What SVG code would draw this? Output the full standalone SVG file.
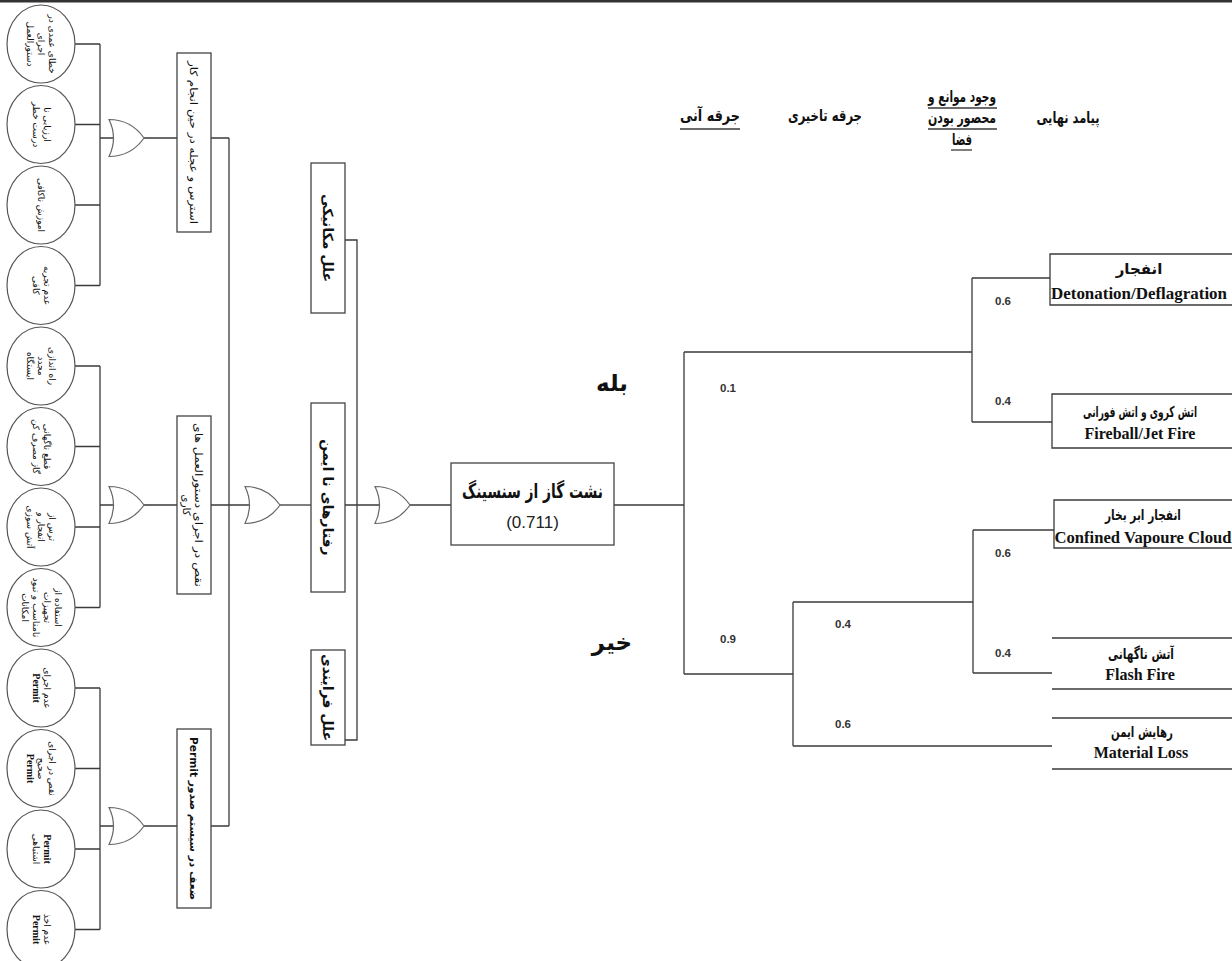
<svg xmlns="http://www.w3.org/2000/svg" width="1232" height="961" viewBox="0 0 1232 961">
<defs>
<style>
.ln{stroke:#3a3a3a;stroke-width:1.3;fill:none}
.bx{fill:#fff;stroke:#444;stroke-width:1.3}
.gate{fill:#fff;stroke:#666;stroke-width:1.2}
.cir{fill:#fff;stroke:#555;stroke-width:1.2}
.fa{font-family:"DejaVu Sans",sans-serif;direction:rtl;fill:#111}
.ct{font-size:9px;text-anchor:middle}
.bt{font-size:10.5px;text-anchor:middle}
.mb{font-size:14px;font-weight:bold;text-anchor:middle}
.en{font-family:"Liberation Serif",serif;font-weight:bold;fill:#111;text-anchor:middle}
.pr{font-family:"Liberation Sans",sans-serif;font-weight:bold;font-size:11.5px;fill:#333}
.hd{font-size:16px;font-weight:bold;text-anchor:middle}
.et{font-size:15px;font-weight:bold;text-anchor:middle}
</style>
</defs>
<rect x="0" y="0" width="1232" height="961" fill="#fff"/>
<rect x="0" y="0" width="1232" height="2.5" fill="#333"/>

<g id="connectors">
<path class="ln" d="M75,44H100M75,124.5H100M75,205H100M75,285.5H100M100,44V285.5M100,138H113"/>
<path class="ln" d="M75,366H100M75,446.5H100M75,527H100M75,607.5H100M100,366V607.5M100,505H113"/>
<path class="ln" d="M75,688H100M75,768.5H100M75,849H100M75,929.5H100M100,688V929.5M100,826H113"/>
<path class="ln" d="M144,138H177M144,505H177M144,826H177"/>
<path class="ln" d="M211,138H229M211,826H229M229,138V826M211,505H249"/>
<path class="ln" d="M280,505H311"/>
<path class="ln" d="M345,240H357V740H345M345,505H379"/>
<path class="ln" d="M410,505H451"/>
<path class="ln" d="M614,505H684M684,352V674M684,352H972M684,674H793"/>
<path class="ln" d="M972,278V422M972,278H1050M972,422H1052"/>
<path class="ln" d="M793,602V746M793,602H973M793,746H1052"/>
<path class="ln" d="M973,530V673M973,530H1054M973,673H1052"/>
</g>

<g id="gates">
<path class="gate" d="M109,119.5Q118,138 109,156.5Q131,156.5 144,138Q131,119.5 109,119.5Z"/>
<path class="gate" d="M109,486.5Q118,505 109,523.5Q131,523.5 144,505Q131,486.5 109,486.5Z"/>
<path class="gate" d="M109,807.5Q118,826 109,844.5Q131,844.5 144,826Q131,807.5 109,807.5Z"/>
<path class="gate" d="M245,486.5Q254,505 245,523.5Q267,523.5 280,505Q267,486.5 245,486.5Z"/>
<path class="gate" d="M375,486.5Q384,505 375,523.5Q397,523.5 410,505Q397,486.5 375,486.5Z"/>
</g>

<g id="c1"><ellipse class="cir" cx="41" cy="44" rx="34" ry="39"/><g transform="translate(41,44) rotate(90)"><text class="fa ct" y="-8">خطای عمدی در</text><text class="fa ct" y="3">اجرای</text><text class="fa ct" y="14">دستورالعمل</text></g></g>
<g id="c2"><ellipse class="cir" cx="41" cy="124.5" rx="34" ry="39"/><g transform="translate(41,124.5) rotate(90)"><text class="fa ct" y="-2.5">ارزیابی نا</text><text class="fa ct" y="8.5">درست خطر</text></g></g>
<g id="c3"><ellipse class="cir" cx="41" cy="205" rx="34" ry="39"/><g transform="translate(41,205) rotate(90)"><text class="fa ct" y="3">اموزش ناکافی</text></g></g>
<g id="c4"><ellipse class="cir" cx="41" cy="285.5" rx="34" ry="39"/><g transform="translate(41,285.5) rotate(90)"><text class="fa ct" y="-2.5">عدم تجربه</text><text class="fa ct" y="8.5">کافی</text></g></g>
<g id="c5"><ellipse class="cir" cx="41" cy="366" rx="34" ry="39"/><g transform="translate(41,366) rotate(90)"><text class="fa ct" y="-8">راه اندازی</text><text class="fa ct" y="3">مجدد</text><text class="fa ct" y="14">ایستگاه</text></g></g>
<g id="c6"><ellipse class="cir" cx="41" cy="446.5" rx="34" ry="39"/><g transform="translate(41,446.5) rotate(90)"><text class="fa ct" y="-2.5">قطع ناگهانی</text><text class="fa ct" y="8.5">گاز مصرف کن</text></g></g>
<g id="c7"><ellipse class="cir" cx="41" cy="527" rx="34" ry="39"/><g transform="translate(41,527) rotate(90)"><text class="fa ct" y="-8">ترس از</text><text class="fa ct" y="3">انفجار و</text><text class="fa ct" y="14">آتش سوزی</text></g></g>
<g id="c8"><ellipse class="cir" cx="41" cy="607.5" rx="34" ry="39"/><g transform="translate(41,607.5) rotate(90)"><text class="fa ct" y="-13.5">استفاده از</text><text class="fa ct" y="-2.5">تجهیزات</text><text class="fa ct" y="8.5" textLength="60" lengthAdjust="spacingAndGlyphs">نامناسب و نبود</text><text class="fa ct" y="19.5">امکانات</text></g></g>
<g id="c9"><ellipse class="cir" cx="41" cy="688" rx="34" ry="39"/><g transform="translate(41,688) rotate(90)"><text class="fa ct" y="-2.5">عدم اجرای</text><text class="en" font-size="10" y="8.5">Permit</text></g></g>
<g id="c10"><ellipse class="cir" cx="41" cy="768.5" rx="34" ry="39"/><g transform="translate(41,768.5) rotate(90)"><text class="fa ct" y="-8">نقص در اجرای</text><text class="fa ct" y="3">صحیح</text><text class="en" font-size="10" y="14">Permit</text></g></g>
<g id="c11"><ellipse class="cir" cx="41" cy="849" rx="34" ry="39"/><g transform="translate(41,849) rotate(90)"><text class="en" font-size="10" y="-2.5">Permit</text><text class="fa ct" y="8.5">اشتباهی</text></g></g>
<g id="c12"><ellipse class="cir" cx="41" cy="929.5" rx="34" ry="39"/><g transform="translate(41,929.5) rotate(90)"><text class="fa ct" y="-2.5">عدم اخذ</text><text class="en" font-size="10" y="8.5">Permit</text></g></g>

<g id="b1"><rect class="bx" x="177" y="53" width="34" height="179"/><g transform="translate(194,142.5) rotate(90)"><text class="fa bt" y="4" textLength="163" lengthAdjust="spacingAndGlyphs">استرس و عجله در حین انجام کار</text></g></g>
<g id="b2"><rect class="bx" x="177" y="416" width="34" height="178"/><g transform="translate(194,505) rotate(90)"><text class="fa bt" y="-1" textLength="164" lengthAdjust="spacingAndGlyphs">نقص در اجرای دستورالعمل های</text><text class="fa bt" y="11">کاری</text></g></g>
<g id="b3"><rect class="bx" x="177" y="729" width="34" height="179"/><g transform="translate(194,818.5) rotate(90)"><text class="fa bt" y="4" font-weight="bold" textLength="163" lengthAdjust="spacingAndGlyphs">ضعف در سیستم صدور Permit</text></g></g>

<g id="mA"><rect class="bx" x="311" y="163" width="34" height="150"/><g transform="translate(328,238) rotate(90)"><text class="fa mb" y="5">علل مکانیکی</text></g></g>
<g id="mB"><rect class="bx" x="311" y="403" width="34" height="189"/><g transform="translate(328,497.5) rotate(90)"><text class="fa mb" y="5">رفتارهای نا ایمن</text></g></g>
<g id="mC"><rect class="bx" x="311" y="650" width="34" height="95"/><g transform="translate(328,697.5) rotate(90)"><text class="fa mb" y="5">علل فرایندی</text></g></g>

<g id="top"><rect class="bx" x="451" y="463" width="163" height="82"/><text class="fa" x="532.5" y="498" font-size="20" font-weight="bold" text-anchor="middle" textLength="141" lengthAdjust="spacingAndGlyphs">نشت گاز از سنسینگ</text><text x="532.5" y="528" font-family="Liberation Sans,sans-serif" font-size="17" fill="#222" text-anchor="middle">(0.711)</text></g>

<g id="headers">
<text class="fa hd" x="710" y="121" textLength="60" lengthAdjust="spacingAndGlyphs">جرقه آنی</text>
<line class="ln" x1="680" y1="129" x2="740" y2="129"/>
<text class="fa hd" x="825" y="121" textLength="74" lengthAdjust="spacingAndGlyphs">جرقه تاخیری</text>
<text class="fa hd" x="962" y="102" textLength="68" lengthAdjust="spacingAndGlyphs">وجود موانع و</text>
<line class="ln" x1="928" y1="108" x2="997" y2="108"/>
<text class="fa hd" x="962" y="123" textLength="68" lengthAdjust="spacingAndGlyphs">محصور بودن</text>
<line class="ln" x1="928" y1="129" x2="997" y2="129"/>
<text class="fa hd" x="962" y="145" textLength="20" lengthAdjust="spacingAndGlyphs">فضا</text>
<line class="ln" x1="951" y1="150" x2="972" y2="150"/>
<text class="fa hd" x="1068" y="123" textLength="63" lengthAdjust="spacingAndGlyphs">پیامد نهایی</text>
</g>

<g id="yesno">
<text class="fa" x="612" y="391" font-size="23" font-weight="bold" text-anchor="middle">بله</text>
<text class="fa" x="612" y="650" font-size="23" font-weight="bold" text-anchor="middle">خیر</text>
</g>

<g id="probs">
<text class="pr" x="720" y="392">0.1</text>
<text class="pr" x="720" y="643">0.9</text>
<text class="pr" x="995" y="305">0.6</text>
<text class="pr" x="995" y="405">0.4</text>
<text class="pr" x="835" y="628">0.4</text>
<text class="pr" x="835" y="728">0.6</text>
<text class="pr" x="995" y="557">0.6</text>
<text class="pr" x="995" y="657">0.4</text>
</g>

<g id="e1"><path class="ln" d="M1240,254H1050V305H1240"/><text class="fa et" x="1139" y="274">انفجار</text><text class="en" x="1139" y="299" font-size="16" textLength="176" lengthAdjust="spacingAndGlyphs">Detonation/Deflagration</text></g>
<g id="e2"><path class="ln" d="M1240,394H1052V448H1240"/><text class="fa et" x="1140" y="417" font-size="14" textLength="114" lengthAdjust="spacingAndGlyphs">اتش کروی و اتش فورانی</text><text class="en" x="1140" y="439" font-size="16">Fireball/Jet Fire</text></g>
<g id="e3"><path class="ln" d="M1240,500H1054V548H1240"/><text class="fa et" x="1143" y="520" textLength="76" lengthAdjust="spacingAndGlyphs">انفجار ابر بخار</text><text class="en" x="1143" y="543" font-size="16" textLength="177" lengthAdjust="spacingAndGlyphs">Confined Vapoure Cloud</text></g>
<g id="e4"><path class="ln" d="M1052,638H1240M1052,689H1240"/><text class="fa et" x="1141" y="659" textLength="66" lengthAdjust="spacingAndGlyphs">آتش ناگهانی</text><text class="en" x="1140" y="680" font-size="16">Flash Fire</text></g>
<g id="e5"><path class="ln" d="M1052,718H1240M1052,769H1240"/><text class="fa et" x="1142" y="737" textLength="62" lengthAdjust="spacingAndGlyphs">رهایش ایمن</text><text class="en" x="1141" y="758" font-size="16">Material Loss</text></g>
</svg>
